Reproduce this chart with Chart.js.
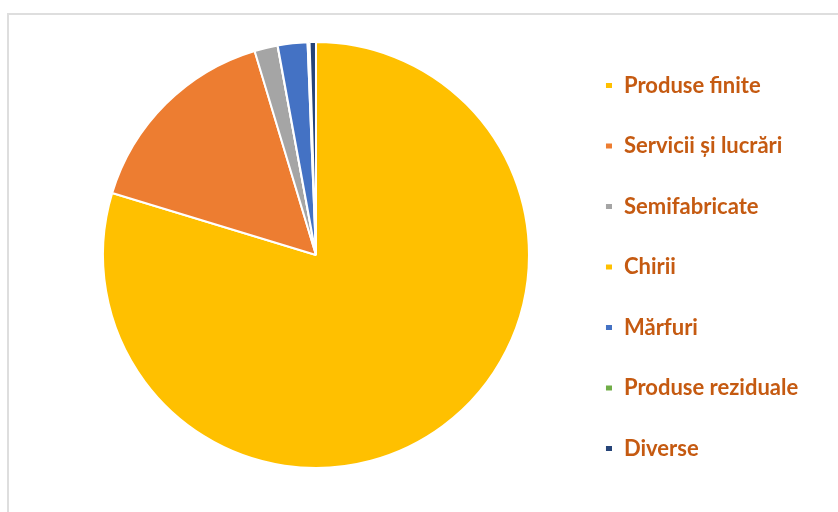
<!DOCTYPE html>
<html>
<head>
<meta charset="utf-8">
<script src="https://cdn.jsdelivr.net/npm/chart.js@4"></script>
<style>
  html, body { margin: 0; padding: 0; background: #fff; }
  #wrap { position: relative; width: 838px; height: 512px; }
  #frame { position: absolute; left: 7px; top: 13px; right: -4px; bottom: -4px;
           border-left: 2px solid #dedede; border-top: 2px solid #dedede; }
  canvas { position: absolute; left: 0; top: 0; }
</style>
</head>
<body>
<div id="wrap">
  <div id="frame"></div>
  <canvas id="myChart" width="838" height="512"></canvas>
</div>
<script>
const categories = ['Produse finite', 'Servicii și lucrări', 'Semifabricate', 'Chirii', 'Mărfuri', 'Produse reziduale', 'Diverse'];
const shares = [79.7, 15.65, 1.76, 0.01, 2.25, 0.15, 0.48];
const colours = ['#FFC000', '#ED7D31', '#A5A5A5', '#FFC000', '#4472C4', '#70AD47', '#264478'];

const chart = new Chart(document.getElementById('myChart').getContext('2d'), {
  type: 'pie',
  data: {
    labels: categories,
    datasets: [
      {
        data: shares,
        backgroundColor: colours,
        borderColor: '#ffffff',
        borderWidth: 2,
        radius: 213,
      },
    ],
  },
  options: {
    responsive: false,
    animation: false,
    layout: { padding: { left: 65.5, right: 29.8, top: 0, bottom: 2 } },
    plugins: {
      tooltip: { enabled: false },
      legend: {
        position: 'right',
        // empty title only nudges the legend column down a little
        title: { display: true, text: ' ', font: { size: 15 }, padding: 3 },
        labels: {
          boxWidth: 8,
          boxHeight: 7,
          padding: 38.5,
          color: '#C55A11',
          font: { family: 'Lato', weight: 'bold', size: 22, lineHeight: 1 },
        },
      },
    },
  },
});
</script>
</body>
</html>
